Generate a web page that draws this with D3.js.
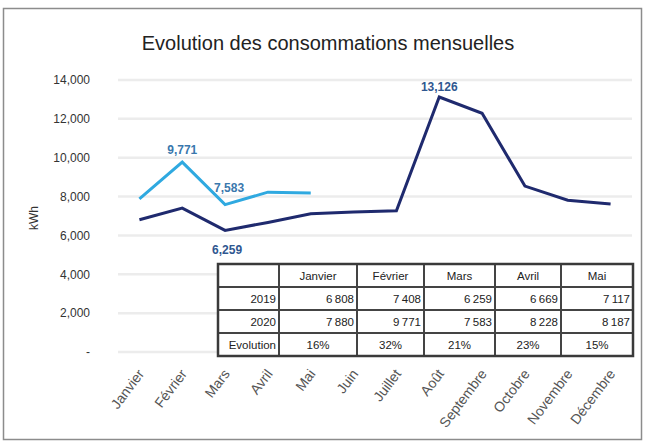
<!DOCTYPE html>
<html>
<head>
<meta charset="utf-8">
<script src="https://cdn.jsdelivr.net/npm/d3@7"></script>
<style>
  body { margin: 0; background: #fff; }
  text { font-family: "Liberation Sans", Arial, sans-serif; }
</style>
</head>
<body>
<svg id="chart" width="645" height="442"></svg>
<script>
/* chart data */
var months = ["Janvier", "Février", "Mars", "Avril", "Mai", "Juin", "Juillet", "Août",
              "Septembre", "Octobre", "Novembre", "Décembre"];
var conso2019 = [6808, 7408, 6259, 6669, 7117, 7200, 7270, 13126, 12290, 8540, 7810, 7620];
var conso2020 = [7880, 9771, 7583, 8228, 8187];
var yTicks = [0, 2000, 4000, 6000, 8000, 10000, 12000, 14000];
var evolution = ["16%", "32%", "21%", "23%", "15%"];

var svg = d3.select("#chart");

/* outer frame */
svg.append("rect")
  .attr("x", 3.5).attr("y", 8.5).attr("width", 638).attr("height", 431)
  .attr("fill", "#fff").attr("stroke", "#8c8c8c").attr("stroke-width", 1.5);

svg.append("text")
  .attr("x", 328).attr("y", 50)
  .attr("text-anchor", "middle")
  .attr("font-size", 20).attr("fill", "#222")
  .text("Evolution des consommations mensuelles");

var x = d3.scalePoint().domain(months).range([118, 632]).padding(0.5);
var y = d3.scaleLinear().domain([0, 14000]).range([352, 80]);

/* gridlines */
svg.append("g").selectAll("line").data(yTicks).join("line")
  .attr("x1", 118).attr("x2", 632)
  .attr("y1", function(d) { return y(d); })
  .attr("y2", function(d) { return y(d); })
  .attr("stroke", "#ececec").attr("stroke-width", 2.5);

/* y axis */
var yAxis = d3.axisLeft(y).tickValues(yTicks)
  .tickFormat(function(d) { return d === 0 ? "-" : d3.format(",")(d); })
  .tickSize(0).tickPadding(0);
var gy = svg.append("g").attr("transform", "translate(90,0)").call(yAxis);
gy.select(".domain").remove();
gy.selectAll("text").attr("font-size", 12).attr("fill", "#333")
  .attr("font-family", "Liberation Sans, Arial, sans-serif");

svg.append("text")
  .attr("transform", "translate(38,218) rotate(-90)")
  .attr("text-anchor", "middle").attr("font-size", 12).attr("fill", "#333")
  .text("kWh");

/* x axis, rotated labels */
var xAxis = d3.axisBottom(x).tickSize(0).tickPadding(0);
var gx = svg.append("g").attr("transform", "translate(0,371)").call(xAxis);
gx.select(".domain").remove();
gx.selectAll("text")
  .attr("font-size", 14).attr("fill", "#555")
  .attr("font-family", "Liberation Sans, Arial, sans-serif")
  .attr("text-anchor", "end")
  .attr("y", 0)
  .attr("dy", "0.35em")
  .attr("transform", "translate(1,0) rotate(-53)");

/* lines */
var line = d3.line()
  .x(function(d, i) { return x(months[i]); })
  .y(function(d) { return y(d); });

svg.append("path").datum(conso2019)
  .attr("d", line).attr("fill", "none")
  .attr("stroke", "#1f2a6e").attr("stroke-width", 3)
  .attr("stroke-linejoin", "miter");

svg.append("path").datum(conso2020)
  .attr("d", line).attr("fill", "none")
  .attr("stroke", "#2fa9e0").attr("stroke-width", 3)
  .attr("stroke-linejoin", "miter");

/* data labels */
var labels = [
  { i: 7, v: conso2019[7], dx: 0, dy: -6, c: "#2f5790" },
  { i: 2, v: conso2019[2], dx: 2, dy: 24, c: "#2f5790" },
  { i: 1, v: conso2020[1], dx: 0, dy: -8, c: "#3a78ad" },
  { i: 2, v: conso2020[2], dx: 4, dy: -13, c: "#3a78ad" }
];
svg.append("g").selectAll("text").data(labels).join("text")
  .attr("x", function(d) { return x(months[d.i]) + d.dx; })
  .attr("y", function(d) { return y(d.v) + d.dy; })
  .attr("text-anchor", "middle")
  .attr("font-size", 12).attr("font-weight", "bold")
  .attr("fill", function(d) { return d.c; })
  .text(function(d) { return d3.format(",")(d.v); });

/* data table */
var fr = d3.formatLocale({ decimal: ",", thousands: "\u2009", grouping: [3], currency: ["", "€"] });
var fmt = fr.format(",");
var colX = [218, 279, 357, 424, 495, 561, 633];
var rowY = [264, 287, 310, 333, 356];
var rows = [
  [""].concat(months.slice(0, 5)),
  ["2019"].concat(conso2019.slice(0, 5).map(fmt)),
  ["2020"].concat(conso2020.map(fmt)),
  ["Evolution"].concat(evolution)
];

var table = svg.append("g");
table.append("rect")
  .attr("x", colX[0]).attr("y", rowY[0])
  .attr("width", colX[6] - colX[0]).attr("height", rowY[4] - rowY[0])
  .attr("fill", "#fff");

table.selectAll("line.h").data(rowY.slice(1, 4)).join("line")
  .attr("x1", colX[0]).attr("x2", colX[6])
  .attr("y1", function(d) { return d; }).attr("y2", function(d) { return d; })
  .attr("stroke", "#444").attr("stroke-width", 2);
table.selectAll("line.v").data(colX.slice(1, 6)).join("line")
  .attr("y1", rowY[0]).attr("y2", rowY[4])
  .attr("x1", function(d) { return d; }).attr("x2", function(d) { return d; })
  .attr("stroke", "#444").attr("stroke-width", 2);
table.append("rect")
  .attr("x", colX[0]).attr("y", rowY[0])
  .attr("width", colX[6] - colX[0]).attr("height", rowY[4] - rowY[0])
  .attr("fill", "none").attr("stroke", "#3a3a3a").attr("stroke-width", 2.5);

rows.forEach(function(r, ri) {
  r.forEach(function(cell, ci) {
    var anchor = "middle", tx = (colX[ci] + colX[ci + 1]) / 2;
    if ((ri === 1 || ri === 2)) { anchor = "end"; tx = colX[ci + 1] - 3; }
    if (ri === 3 && ci === 0) { anchor = "end"; tx = colX[1] - 3; }
    table.append("text")
      .attr("x", tx).attr("y", rowY[ri] + 16)
      .attr("text-anchor", anchor)
      .attr("font-size", 11.5).attr("fill", "#222")
      .text(cell);
  });
});
</script>
</body>
</html>
